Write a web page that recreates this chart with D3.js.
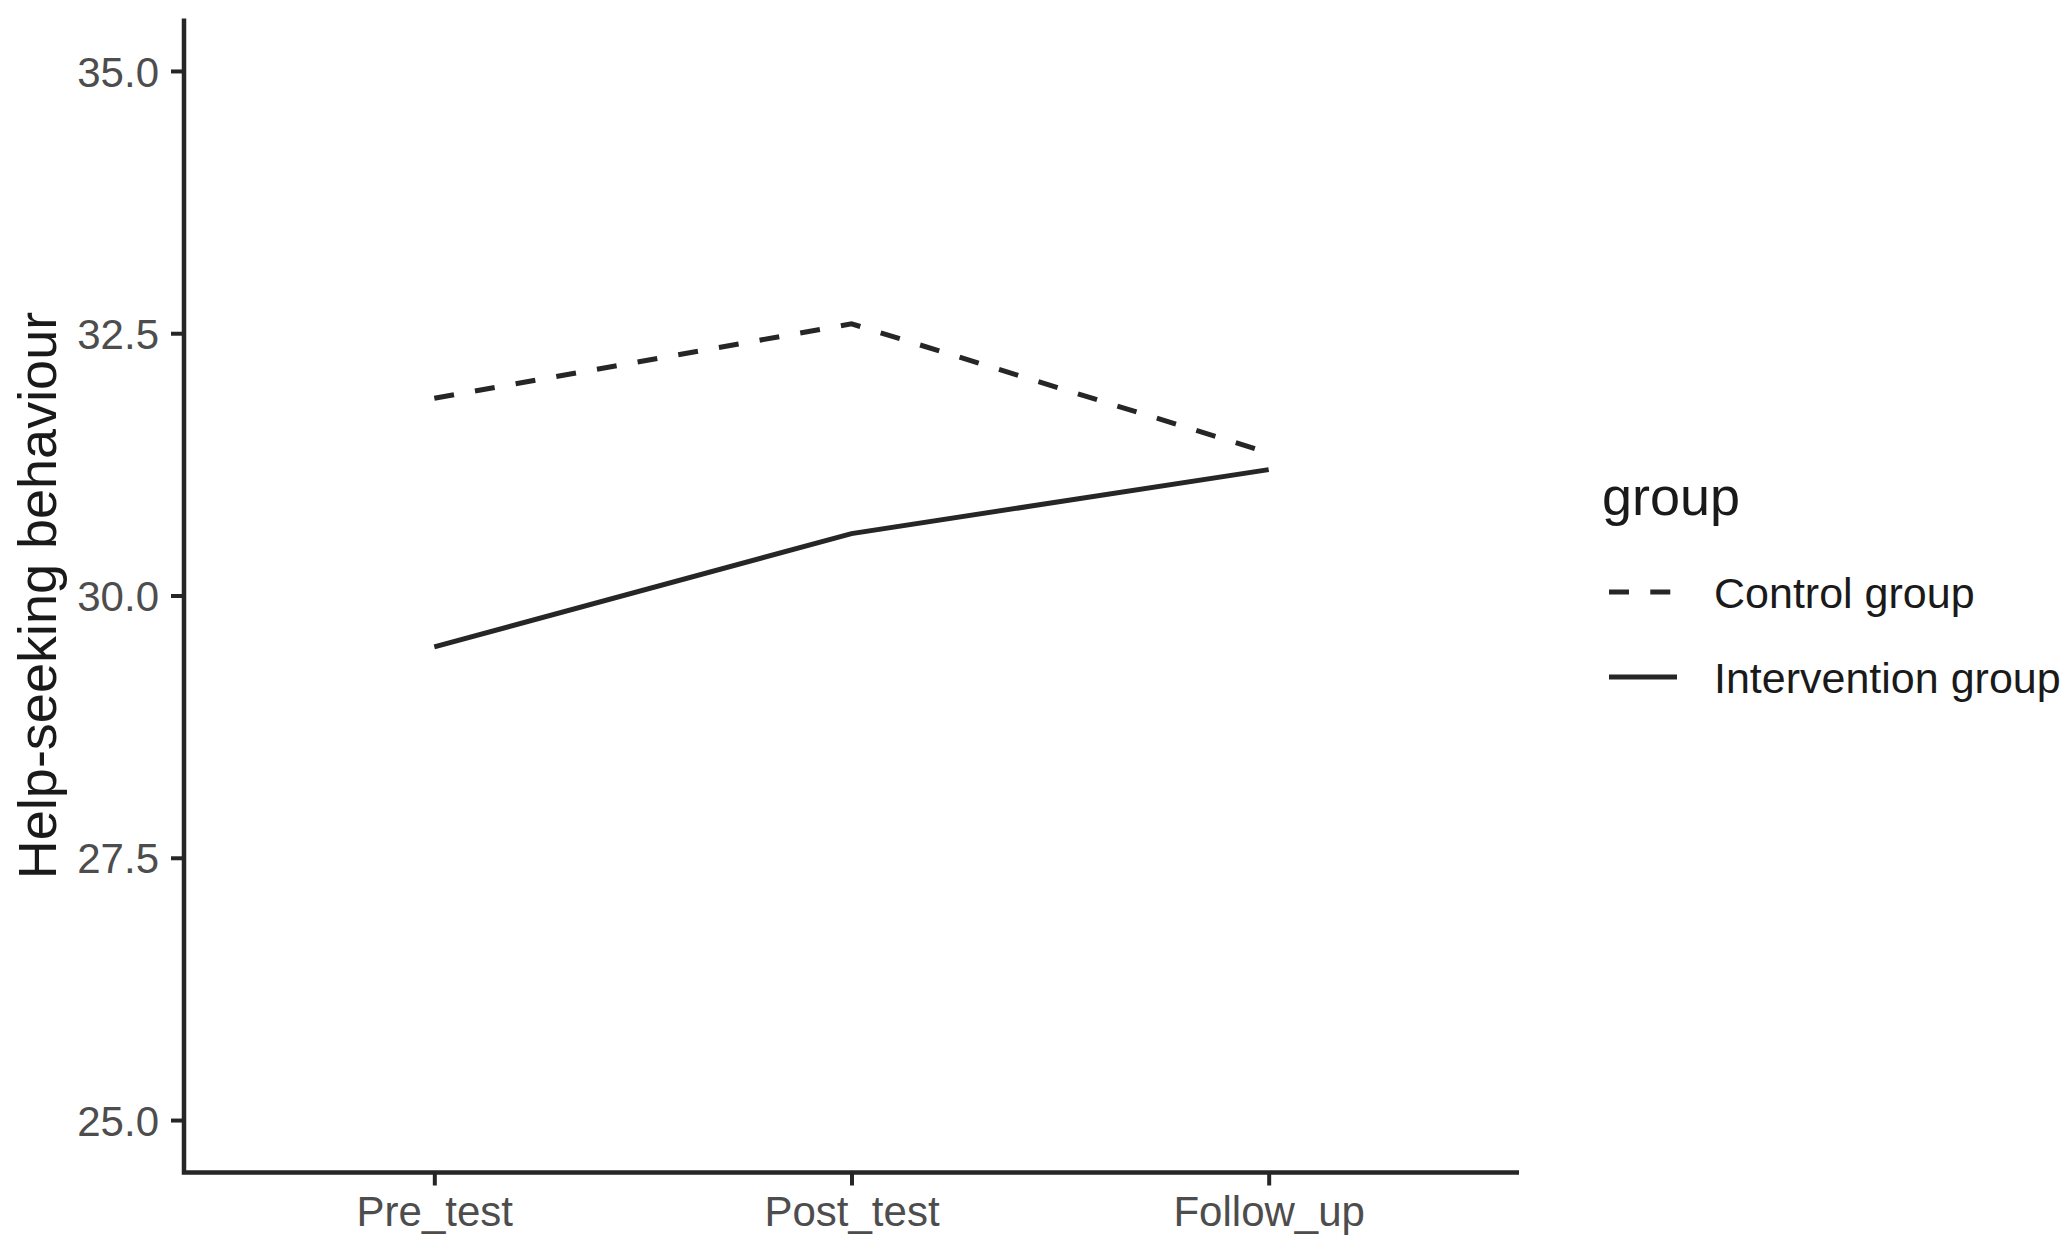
<!DOCTYPE html>
<html>
<head>
<meta charset="utf-8">
<script src="https://cdn.jsdelivr.net/npm/d3@7"></script>
<style>
  body { margin: 0; background: #fff; }
  svg { display: block; font-family: "Liberation Sans", Arial, sans-serif; }
</style>
</head>
<body>
<script>
// data
var timepoints = ["Pre_test", "Post_test", "Follow_up"]
var controlValues = [31.88, 32.59, 31.36]
var interventionValues = [29.51, 30.59, 31.20]
var groupNames = ["Control group", "Intervention group"]
var yTicks = [25.0, 27.5, 30.0, 32.5, 35.0]

var width = 2070, height = 1252
var ink = "#262626"

var svg = d3.select("body").append("svg")
    .attr("width", width)
    .attr("height", height)

// scales, ggplot style expansion on both axes
var x = d3.scalePoint()
    .domain(timepoints)
    .range([184, 1519])
    .padding(0.6)

var y = d3.scaleLinear()
    .domain([24.5, 35.5])
    .range([1172.5, 18.5])

// y axis
var yAxis = svg.append("g")
    .attr("transform", "translate(" + x.range()[0] + ",0)")
    .call(d3.axisLeft(y).tickValues(yTicks).tickFormat(d3.format(".1f")).tickSize(13).tickPadding(12))
yAxis.select(".domain").remove()
yAxis.selectAll(".tick line").attr("stroke", ink).attr("stroke-width", 4)
yAxis.selectAll(".tick text")
    .attr("fill", "#4d4d4d")
    .style("font-size", "42px")
    .attr("dy", "0.36em")

// x axis
var xAxis = svg.append("g")
    .attr("transform", "translate(0," + y.range()[0] + ")")
    .call(d3.axisBottom(x).tickSize(13).tickPadding(11))
xAxis.select(".domain").remove()
xAxis.selectAll(".tick line").attr("stroke", ink).attr("stroke-width", 4)
xAxis.selectAll(".tick text")
    .attr("fill", "#4d4d4d")
    .style("font-size", "42px")
    .attr("dy", "0.71em")

// axis lines (theme_classic)
svg.append("path")
    .attr("d", "M" + x.range()[0] + "," + y.range()[1] + "V" + y.range()[0] + "H" + x.range()[1])
    .attr("fill", "none")
    .attr("stroke", ink)
    .attr("stroke-width", 4.5)

// y axis title
svg.append("text")
    .attr("transform", "translate(56," + ((y.range()[0] + y.range()[1]) / 2) + ") rotate(-90)")
    .attr("text-anchor", "middle")
    .attr("fill", "#1a1a1a")
    .style("font-size", "54px")
    .text("Help-seeking behaviour")

// lines
var line = d3.line()
    .x(function (d, i) { return x(timepoints[i]) })
    .y(function (d) { return y(d) })

var series = [
    { name: groupNames[0], values: controlValues, dash: "20,21.3" },
    { name: groupNames[1], values: interventionValues, dash: null }
]

svg.selectAll(".series")
    .data(series)
    .enter()
    .append("path")
    .attr("class", "series")
    .attr("d", function (d) { return line(d.values) })
    .attr("fill", "none")
    .attr("stroke", ink)
    .attr("stroke-width", 5)
    .attr("stroke-dasharray", function (d) { return d.dash })

// legend
var legend = svg.append("g").attr("transform", "translate(1602,0)")

legend.append("text")
    .attr("x", 0)
    .attr("y", 515)
    .attr("fill", "#1a1a1a")
    .style("font-size", "54px")
    .text("group")

var legendRows = legend.selectAll(".legend-row")
    .data(series)
    .enter()
    .append("g")
    .attr("class", "legend-row")
    .attr("transform", function (d, i) { return "translate(0," + (592 + i * 85) + ")" })

legendRows.append("line")
    .attr("x1", 7)
    .attr("x2", 75)
    .attr("stroke", ink)
    .attr("stroke-width", 5)
    .attr("stroke-dasharray", function (d) { return d.dash })

legendRows.append("text")
    .attr("x", 112)
    .attr("y", 16)
    .attr("fill", "#1a1a1a")
    .style("font-size", "43px")
    .text(function (d) { return d.name })
</script>
</body>
</html>
